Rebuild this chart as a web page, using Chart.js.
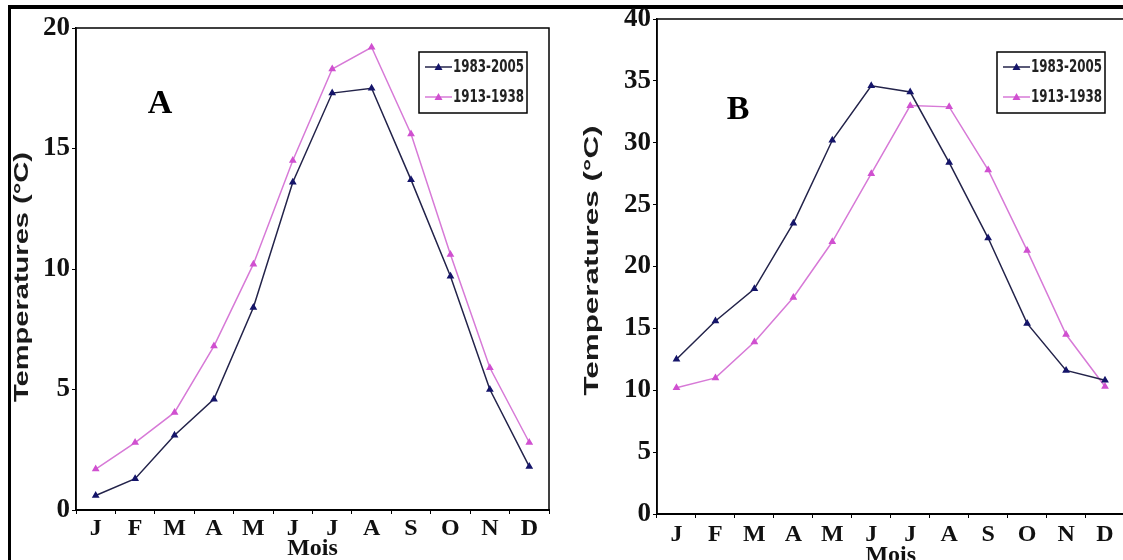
<!DOCTYPE html>
<html>
<head>
<meta charset="utf-8">
<script src="https://cdn.jsdelivr.net/npm/chart.js@4.4.1/dist/chart.umd.min.js"></script>
<style>
  html, body { margin: 0; padding: 0; background: #fff; width: 1123px; height: 560px; overflow: hidden; }
  #frame { position: absolute; left: 8px; top: 5px; width: 1200px; height: 600px;
           border-top: 4px solid #000; border-left: 3px solid #000; }
  canvas { position: absolute; top: 0; }
  #chartA { left: 0; }
  #chartB { left: 560px; }
</style>
</head>
<body>
<div id="frame"></div>
<canvas id="chartA" width="580" height="600"></canvas>
<canvas id="chartB" width="570" height="600"></canvas>
<script>
// Monthly mean temperatures (°C), two periods, two stations
const months = ["J", "F", "M", "A", "M", "J", "J", "A", "S", "O", "N", "D"];
const periods = ["1983-2005", "1913-1938"];
const yTitle = "Temperatures (°C)";
const xTitle = "Mois";

const recentA = [0.6, 1.3, 3.1, 4.6, 8.4, 13.6, 17.3, 17.5, 13.7, 9.7, 5.0, 1.8];
const oldA    = [1.7, 2.8, 4.05, 6.8, 10.2, 14.5, 18.3, 19.2, 15.6, 10.6, 5.9, 2.8];

const recentB = [12.5, 15.6, 18.2, 23.5, 30.2, 34.6, 34.1, 28.4, 22.3, 15.4, 11.6, 10.8];
const oldB    = [10.2, 11.0, 13.9, 17.5, 22.0, 27.5, 33.0, 32.9, 27.8, 21.3, 14.5, 10.3];

const ticksA = [0, 5, 10, 15, 20];
const ticksB = [0, 5, 10, 15, 20, 25, 30, 35, 40];

const darkColor = "#23234a";
const pinkColor = "#d77ad7";

// box round the plot area, panel letter, stretched y title and the small legend box
const panelPlugin = {
  id: "panel",
  afterDatasetsDraw(chart, args, opts) {
    const { ctx, chartArea: a } = chart;
    ctx.save();
    ctx.strokeStyle = "#000";
    ctx.lineWidth = 1.5;
    ctx.strokeRect(a.left, a.top, a.right - a.left, a.bottom - a.top);

    ctx.fillStyle = "#000";
    ctx.font = 'bold 34px "Liberation Serif", serif';
    ctx.textAlign = "center";
    ctx.textBaseline = "middle";
    ctx.fillText(opts.letter, opts.letterX, opts.letterY);

    // y title, the original figure is stretched along the text
    ctx.save();
    ctx.translate(opts.titleX, (a.top + a.bottom) / 2 + opts.titleDy);
    ctx.rotate(-Math.PI / 2);
    ctx.font = 'bold 21px "Liberation Sans", Arial, sans-serif';
    const tw = ctx.measureText(yTitle).width;
    ctx.scale(opts.titleLen / tw, 1);
    ctx.fillStyle = "#1a1a1a";
    ctx.fillText(yTitle, 0, 0);
    ctx.restore();

    // legend
    const lx = opts.legendX, ly = opts.legendY, lw = 108, lh = 61;
    ctx.fillStyle = "#fff";
    ctx.fillRect(lx, ly, lw, lh);
    ctx.strokeStyle = "#000";
    ctx.lineWidth = 1.5;
    ctx.strokeRect(lx, ly, lw, lh);
    chart.data.datasets.forEach((ds, i) => {
      const y = ly + 15 + i * 30;
      ctx.strokeStyle = ds.borderColor;
      ctx.lineWidth = 1.5;
      ctx.beginPath();
      ctx.moveTo(lx + 6, y);
      ctx.lineTo(lx + 33, y);
      ctx.stroke();
      ctx.fillStyle = ds.pointBackgroundColor;
      ctx.beginPath();
      ctx.moveTo(lx + 19.5, y - 4);
      ctx.lineTo(lx + 23.5, y + 3);
      ctx.lineTo(lx + 15.5, y + 3);
      ctx.closePath();
      ctx.fill();

      ctx.fillStyle = "#222";
      ctx.font = 'bold 17px "Liberation Sans Narrow", "DejaVu Sans Condensed", "Liberation Sans", sans-serif';
      ctx.textAlign = "left";
      ctx.textBaseline = "middle";
      const w = ctx.measureText(ds.label).width;
      const sx = Math.min(1, 71 / w);
      ctx.save();
      ctx.translate(lx + 34, y + 1);
      ctx.scale(sx, 1);
      ctx.fillText(ds.label, 0, 0);
      ctx.restore();
    });
    ctx.restore();
  }
};

function makeChart(id, recent, old, tickList, cfg) {
  const ctx = document.getElementById(id).getContext("2d");
  return new Chart(ctx, {
    type: "line",
    data: {
      labels: months,
      datasets: [
        {
          label: periods[0],
          data: recent,
          borderColor: darkColor,
          backgroundColor: darkColor,
          pointBackgroundColor: "#15156a",
          pointBorderColor: "#15156a",
          borderWidth: 1.5,
          pointStyle: "triangle",
          pointRadius: 3,
          tension: 0
        },
        {
          label: periods[1],
          data: old,
          borderColor: pinkColor,
          backgroundColor: pinkColor,
          pointBackgroundColor: "#d050d0",
          pointBorderColor: "#d050d0",
          borderWidth: 1.5,
          pointStyle: "triangle",
          pointRadius: 3,
          tension: 0
        }
      ]
    },
    options: {
      responsive: false,
      animation: false,
      events: [],
      layout: { padding: cfg.padding },
      plugins: {
        legend: { display: false },
        tooltip: { enabled: false },
        panel: cfg.panel
      },
      scales: {
        x: {
          offset: true,
          grid: { display: true, drawOnChartArea: false, offset: true, tickLength: 4, color: "#000" },
          border: { display: true, color: "#000", width: 2 },
          ticks: {
            color: "#111",
            padding: cfg.xTickPad,
            font: { family: '"Liberation Serif", serif', size: 24, weight: "bold" }
          },
          title: {
            display: true,
            text: xTitle,
            color: "#111",
            padding: { top: 0, bottom: cfg.xTitlePad },
            font: { family: '"Liberation Serif", serif', size: 24, weight: "bold" }
          },
          afterFit: s => { s.height = cfg.xHeight; }
        },
        y: {
          min: tickList[0],
          max: tickList[tickList.length - 1],
          afterBuildTicks: s => { s.ticks = tickList.map(v => ({ value: v })); },
          grid: { display: true, drawOnChartArea: false, tickLength: 4, color: "#000" },
          border: { display: true, color: "#000", width: 1.5 },
          ticks: {
            color: "#111",
            padding: 2,
            font: { family: '"Liberation Serif", serif', size: 27, weight: "bold" }
          },
          title: { display: false },
          afterFit: s => { s.width = cfg.yWidth; }
        }
      }
    },
    plugins: [panelPlugin]
  });
}

makeChart("chartA", recentA, oldA, ticksA, {
  padding: { top: 28, right: 31, bottom: 0, left: 0 },
  yWidth: 76,
  xHeight: 90,
  xTickPad: 0,
  xTitlePad: 37,
  panel: { letter: "A", letterX: 160, letterY: 104, legendX: 419, legendY: 52,
           titleX: 22, titleDy: 8, titleLen: 250 }
});

makeChart("chartB", recentB, oldB, ticksB, {
  padding: { top: 19, right: 5, bottom: 0, left: 0 },
  yWidth: 97,
  xHeight: 86,
  xTickPad: 2,
  xTitlePad: 30,
  panel: { letter: "B", letterX: 178, letterY: 110, legendX: 437, legendY: 52,
           titleX: 32, titleDy: -6, titleLen: 270 }
});
</script>
</body>
</html>
